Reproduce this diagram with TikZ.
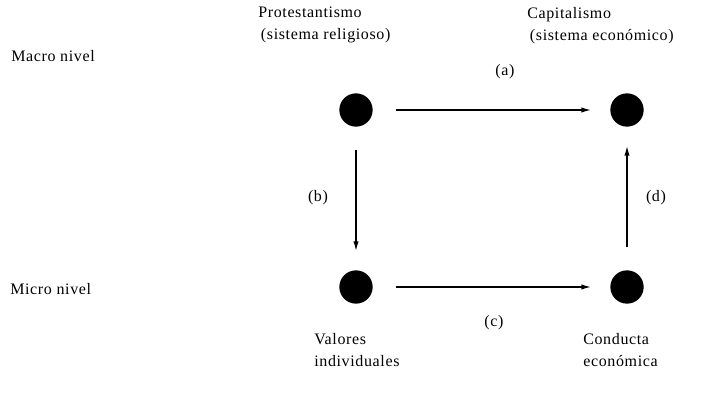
\documentclass[tikz,border=0pt]{standalone}
\usepackage{fontspec}
\setmainfont{Liberation Serif}[LetterSpace=4]
\usetikzlibrary{arrows.meta,positioning}

\begin{document}
\begin{tikzpicture}[
  x=0.75pt,y=-0.75pt,
  font=\fontsize{12}{16.5}\selectfont,
  dot/.style={circle,fill=black,minimum size=25pt,inner sep=0pt},
  ar/.style={-{Latex[length=7.5pt,width=4pt]},line width=1.2pt,
             shorten <=17pt,shorten >=14pt},
  lbl/.style={inner sep=1pt},
  txt/.style={align=left,anchor=north west,inner sep=0pt}
]
\useasboundingbox (0,0) rectangle (723,402);
% four units
\node[dot] (prot) at (356,110) {};
\node[dot] (capi) at (627,110) {};
\node[dot] (valo) at (356,287) {};
\node[dot] (cond) at (627,287) {};

% levels
\node[txt,anchor=west] (macro) at (11,56) {Macro nivel};
\node[txt,anchor=west] (micro) at (10,289) {Micro nivel};

% names of the units
\node[txt] (protl) at (258,7) {Protestantismo\\ \,(sistema religioso)};
\node[txt] (capil) at (527,7) {Capitalismo\\ \,(sistema económico)};
\node[txt] (valol) at (314,333) {Valores\\individuales};
\node[txt] (condl) at (583,333) {Conducta\\económica};

\draw[ar] (prot) -- (capi);
\draw[ar] (prot) -- (valo);
\draw[ar] (valo) -- (cond);
\draw[ar] (cond) -- (capi);

\node[lbl] (a) at (505,72) {(a)};
\node[lbl] (b) at (318,198) {(b)};
\node[lbl] (c) at (494,323) {(c)};
\node[lbl] (d) at (656,198) {(d)};
\end{tikzpicture}
\end{document}
